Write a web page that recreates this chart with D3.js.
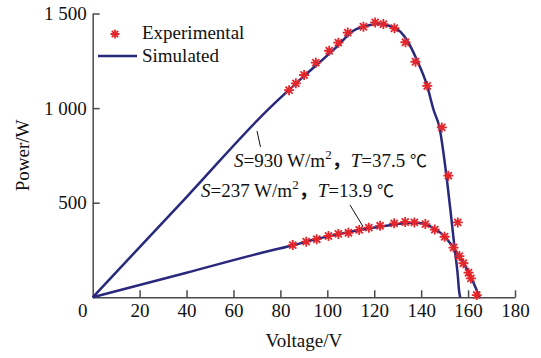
<html>
<head>
<meta charset="utf-8">
<title>pv power curves</title>
<script src="https://cdn.jsdelivr.net/npm/d3@7"></script>
<style>
body { margin:0; background:white; }
text { font-family: "Liberation Serif", "Times New Roman", serif; }
</style>
</head>
<body>
<svg id="chart"></svg>
<script>

// simulated curves
var sim930_v = [0, 40, 75.6, 89.8, 104, 111.1, 118.2, 121.1, 126.8, 131.1, 133.9, 138.2, 142.5, 145.3, 147.8, 151, 153.1, 154.2, 155.5, 156.3, 156.7];
var sim930_p = [0, 530, 1003, 1166, 1324, 1409, 1439, 1444, 1434, 1404, 1360, 1254, 1120, 990, 898, 620, 391, 267, 130, 21, 0];

var sim237_v = [0, 40, 75.6, 85, 95, 105, 115, 125, 133, 138, 142, 146, 150, 153, 156, 158.5, 160.5, 162.5, 164, 164.9];
var sim237_p = [0, 130, 246, 274, 307, 334, 358, 378, 392, 394, 385, 360, 322, 275, 220, 172, 125, 72, 28, 0];

// experimental points
var exp930_v = [83.7, 86.6, 90.1, 95.1, 100.8, 104.7, 108.7, 115.4, 120.4, 123.9, 128.6, 133.3, 137.6, 142.6, 148.8, 151.6, 155.6];
var exp930_p = [1095, 1131, 1175, 1240, 1303, 1346, 1399, 1430, 1453, 1444, 1422, 1348, 1245, 1117, 898, 643, 396];

var exp237_v = [85.3, 91.0, 95.5, 100.5, 104.7, 109.0, 113.6, 117.7, 122.5, 128.5, 133.2, 137.1, 141.8, 145.8, 150.0, 153.8, 156.3, 158.0, 160.2, 161.2, 163.7];
var exp237_p = [276, 294, 307, 324, 335, 341, 356, 368, 378, 391, 398, 396, 387, 358, 320, 263, 218, 180, 130, 100, 12];

var x_ticks = [20, 40, 60, 80, 100, 120, 140, 160, 180];
var y_ticks = [500, 1000, 1500];
var y_tick_labels = ["500", "1 000", "1 500"];

var width = 541, height = 358;
var line_color = "#28287c";
var mark_color = "#e3262b";
var axis_color = "#4a4a4a";

var svg = d3.select("#chart").attr("width", width).attr("height", height);

var x = d3.scaleLinear().domain([0, 180]).range([92.7, 515]);
var y = d3.scaleLinear().domain([0, 1500]).range([297.3, 13.5]);

// axes
var xAxis = svg.append("g").attr("transform", "translate(0," + y(0) + ")")
	.call(d3.axisBottom(x).tickValues(x_ticks).tickSizeInner(-7).tickSizeOuter(0).tickPadding(6));
var yAxis = svg.append("g").attr("transform", "translate(" + x(0) + ",0)")
	.call(d3.axisLeft(y).tickValues(y_ticks).tickFormat(function(d, i) { return y_tick_labels[i]; })
		.tickSizeInner(-7).tickSizeOuter(0).tickPadding(6));

svg.selectAll(".domain, .tick line").attr("stroke", axis_color).attr("stroke-width", 1.5);
svg.selectAll(".tick text").attr("font-family", "Liberation Serif").attr("font-size", 19).attr("fill", "#111");

svg.append("text").attr("x", x(0) - 10).attr("y", y(0) + 6).attr("dy", "0.71em")
	.attr("text-anchor", "middle").attr("font-size", 19).attr("fill", "#111").text("0");

svg.append("text").attr("x", (x(0) + x(180)) / 2).attr("y", 347)
	.attr("text-anchor", "middle").attr("font-size", 19).attr("fill", "#111").text("Voltage/V");
svg.append("text").attr("transform", "translate(29," + (y(0) + y(1500)) / 2 + ") rotate(-90)")
	.attr("text-anchor", "middle").attr("font-size", 19).attr("fill", "#111").text("Power/W");

// curves
var line = d3.line().x(function(d) { return x(d[0]); }).y(function(d) { return y(d[1]); }).curve(d3.curveMonotoneX);

[[sim930_v, sim930_p], [sim237_v, sim237_p]].forEach(function(s) {
	svg.append("path").datum(d3.zip(s[0], s[1])).attr("d", line)
		.attr("fill", "none").attr("stroke", line_color).attr("stroke-width", 2.5);
});

function star(r) {
	var d = r * 0.7071;
	return "M" + (-r) + ",0L" + r + ",0M0," + (-r) + "L0," + r +
		"M" + (-d) + "," + (-d) + "L" + d + "," + d + "M" + (-d) + "," + d + "L" + d + "," + (-d);
}

[[exp930_v, exp930_p], [exp237_v, exp237_p]].forEach(function(s) {
	svg.append("g").selectAll("path").data(d3.zip(s[0], s[1])).enter()
		.append("path")
		.attr("transform", function(d) { return "translate(" + x(d[0]) + "," + y(d[1]) + ")"; })
		.attr("d", star(5))
		.attr("stroke", mark_color).attr("stroke-width", 1.8).attr("fill", "none");
});

// legend
svg.append("path").attr("transform", "translate(115,34)").attr("d", star(4.5))
	.attr("stroke", mark_color).attr("stroke-width", 1.8).attr("fill", "none");
svg.append("text").attr("x", 142).attr("y", 39).attr("font-size", 19).attr("fill", "#111").text("Experimental");
svg.append("line").attr("x1", 98).attr("x2", 137).attr("y1", 56).attr("y2", 56)
	.attr("stroke", line_color).attr("stroke-width", 2.5);
svg.append("text").attr("x", 142).attr("y", 62).attr("font-size", 19).attr("fill", "#111").text("Simulated");

// annotations
function note(tx, ty, S, T) {
	var t = svg.append("text").attr("x", tx).attr("y", ty).attr("font-size", 19).attr("fill", "#111");
	t.append("tspan").attr("font-style", "italic").text("S");
	t.append("tspan").text("=" + S + " W/m");
	t.append("tspan").attr("font-size", 13).attr("dy", -8).text("2");
	t.append("tspan").attr("dy", 8).attr("font-family", "Noto Sans CJK SC").attr("font-weight", "bold").text("，");
	t.append("tspan").attr("font-style", "italic").text("T");
	t.append("tspan").text("=" + T + " ");
	t.append("tspan").attr("font-family", "Noto Sans CJK SC").attr("font-size", 17).text("℃");
}
note(234, 167, 930, "37.5");
note(201, 197, 237, "13.9");

svg.append("line").attr("x1", 257).attr("y1", 131).attr("x2", 260.5).attr("y2", 147)
	.attr("stroke", "#111").attr("stroke-width", 1);
svg.append("line").attr("x1", 350).attr("y1", 205).attr("x2", 363).attr("y2", 226.5)
	.attr("stroke", "#111").attr("stroke-width", 1);

</script>
</html>
